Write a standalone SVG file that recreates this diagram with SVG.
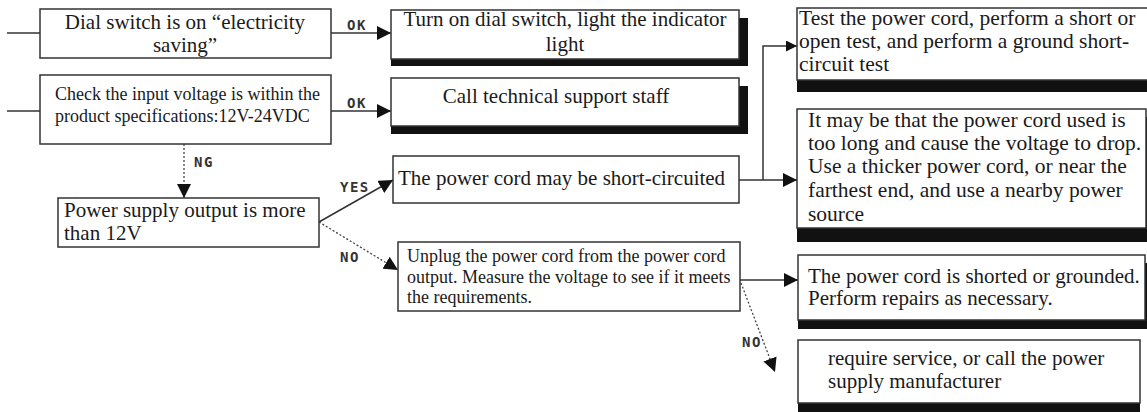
<svg xmlns="http://www.w3.org/2000/svg" width="1147" height="412" viewBox="0 0 1147 412">
<style>
.box{fill:#fff;stroke:#333;stroke-width:1.5}
.sh{fill:#111}
.t{font-family:"Liberation Serif","Times New Roman",serif;fill:#1a1a1a;font-size:21px}
.s{font-size:18px}
.l{font-family:"DejaVu Sans Mono","Liberation Mono",monospace;font-weight:bold;font-size:14px;fill:#333;letter-spacing:1.5px}
.c{fill:none;stroke:#333;stroke-width:1.5}
.d{fill:none;stroke:#444;stroke-width:1.3;stroke-dasharray:2 2}
</style>
<defs>
<marker id="ah" viewBox="0 0 10 10" refX="10" refY="5" markerWidth="14" markerHeight="14" markerUnits="userSpaceOnUse" orient="auto">
<path d="M0,0 L10,5 L0,10 z" fill="#111"/>
</marker>
<marker id="ahs" viewBox="0 0 10 10" refX="10" refY="5" markerWidth="11" markerHeight="11" markerUnits="userSpaceOnUse" orient="auto">
<path d="M0,0 L10,5 L0,10 z" fill="#111"/>
</marker>
</defs>

<g id="connectors">
<line class="c" x1="7" y1="33" x2="40" y2="33"/>
<line class="c" x1="7" y1="111" x2="40" y2="111"/>
<line class="c" x1="331" y1="33" x2="391" y2="33" marker-end="url(#ah)"/>
<line class="c" x1="331" y1="111" x2="391" y2="111" marker-end="url(#ah)"/>
<line class="d" x1="184" y1="144" x2="184" y2="198" marker-end="url(#ah)"/>
<line class="c" x1="319" y1="222" x2="393" y2="180" marker-end="url(#ah)"/>
<line class="d" x1="319" y1="222" x2="398" y2="270" marker-end="url(#ah)"/>
<line class="c" x1="739" y1="180" x2="797" y2="180" marker-end="url(#ah)"/>
<polyline class="c" points="763,180 763,46 797,46" marker-end="url(#ahs)"/>
<line class="c" x1="740" y1="280" x2="798" y2="280" marker-end="url(#ah)"/>
<line class="d" x1="741" y1="283" x2="775" y2="372" marker-end="url(#ah)"/>
<text class="l" x="347" y="30">OK</text>
<text class="l" x="347" y="108">OK</text>
<text class="l" x="194" y="167">NG</text>
<text class="l" x="340" y="192">YES</text>
<text class="l" x="340" y="262">NO</text>
<text class="l" x="742" y="347">NO</text>
</g>

<g id="n1">
<rect class="box" x="40" y="9" width="291" height="49"/>
<text class="t" x="185" y="29" text-anchor="middle">Dial switch is on “electricity</text>
<text class="t" x="185" y="52" text-anchor="middle">saving”</text>
</g>

<g id="n2">
<rect class="box" x="40" y="75" width="291" height="69"/>
<text class="t s" x="55" y="100">Check the input voltage is within the</text>
<text class="t s" x="55" y="122">product specifications:12V-24VDC</text>
</g>

<g id="n3">
<rect class="sh" x="391" y="18" width="357" height="48"/>
<rect class="box" x="391" y="10" width="348" height="49"/>
<text class="t" x="565" y="26" text-anchor="middle">Turn on dial switch, light the indicator</text>
<text class="t" x="565" y="51" text-anchor="middle">light</text>
</g>

<g id="n4">
<rect class="sh" x="391" y="86" width="357" height="48"/>
<rect class="box" x="391" y="78" width="348" height="48"/>
<text class="t" x="556" y="103" text-anchor="middle">Call technical support staff</text>
</g>

<g id="n5">
<rect class="sh" x="797" y="16" width="360" height="76"/>
<rect class="box" x="797" y="8" width="360" height="72"/>
<text class="t" x="799" y="25" style="font-size:21.5px">Test the power cord, perform a short or</text>
<text class="t" x="799" y="48" style="font-size:21.5px">open test, and perform a ground short-</text>
<text class="t" x="799" y="71" style="font-size:21.5px">circuit test</text>
</g>

<g id="n6">
<rect class="sh" x="797" y="117" width="357" height="125"/>
<rect class="box" x="797" y="109" width="349" height="119"/>
<text class="t" x="808" y="127" style="font-size:21.5px">It may be that the power cord used is</text>
<text class="t" x="808" y="150" style="font-size:21.5px">too long and cause the voltage to drop.</text>
<text class="t" x="808" y="173" style="font-size:21.5px">Use a thicker power cord, or near the</text>
<text class="t" x="808" y="197" style="font-size:21.5px">farthest end, and use a nearby power</text>
<text class="t" x="808" y="221" style="font-size:21.5px">source</text>
</g>

<g id="n7">
<rect class="box" x="58" y="198" width="261" height="49"/>
<text class="t" x="64" y="217">Power supply output is more</text>
<text class="t" x="64" y="240">than 12V</text>
</g>

<g id="n8">
<rect class="box" x="393" y="156" width="346" height="47"/>
<text class="t" x="398" y="185">The power cord may be short-circuited</text>
</g>

<g id="n9">
<rect class="box" x="398" y="242" width="342" height="69"/>
<text class="t s" x="407" y="262">Unplug the power cord from the power cord</text>
<text class="t s" x="407" y="283">output. Measure the voltage to see if it meets</text>
<text class="t s" x="407" y="303">the requirements.</text>
</g>

<g id="n10">
<rect class="sh" x="798" y="263" width="349" height="66"/>
<rect class="box" x="798" y="255" width="347" height="65"/>
<text class="t" x="808" y="283">The power cord is shorted or grounded.</text>
<text class="t" x="808" y="305">Perform repairs as necessary.</text>
</g>

<g id="n11">
<rect class="sh" x="798" y="348" width="342" height="64"/>
<rect class="box" x="798" y="340" width="342" height="63"/>
<text class="t" x="828" y="365">require service, or call the power</text>
<text class="t" x="828" y="388">supply manufacturer</text>
</g>
</svg>
